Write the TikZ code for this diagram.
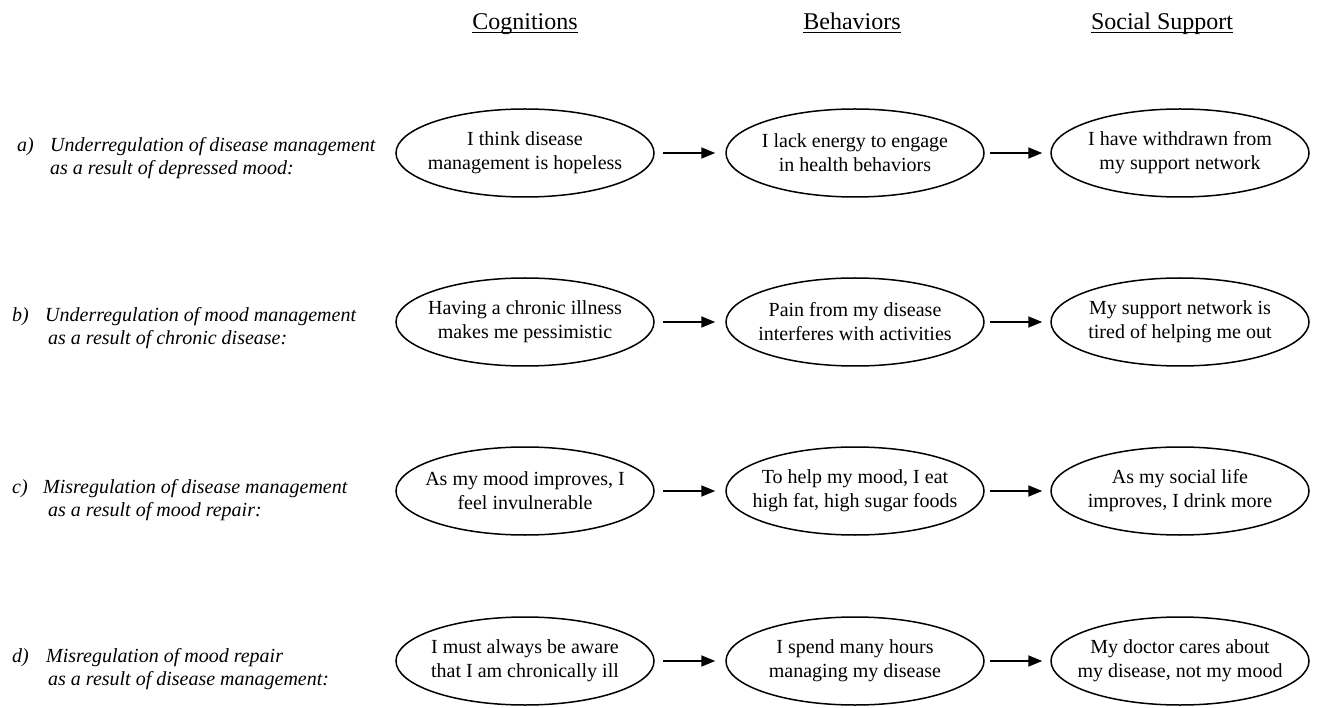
\documentclass[tikz,border=0pt]{standalone}
\usepackage{fontspec}
\setmainfont{Liberation Serif}
\usetikzlibrary{shapes.geometric,arrows.meta}
\newcommand\hdul[1]{\setbox0\hbox{#1}\rlap{\rule[-3.5pt]{\wd0}{1.2pt}}\box0}
\tikzset{
  oval/.style={draw, line width=1.5pt, ellipse, minimum width=258pt, minimum height=88pt, inner sep=0pt},
  ovaltext/.style={align=center, font=\fontsize{20}{24}\selectfont, inner sep=0pt},
  hdr/.style={anchor=base, font=\fontsize{24}{28}\selectfont, inner sep=0pt},
  rowlab/.style={anchor=base west, font=\fontsize{20}{24}\selectfont\itshape, inner sep=0pt},
  arr/.style={line width=1.8pt, -{Triangle[length=14pt,width=11pt]}},
}
\begin{document}
\begin{tikzpicture}[x=1pt,y=-1pt]
\useasboundingbox (0,0) rectangle (1317,708);
% headers
\node[hdr] (h1) at (525,30) {\hdul{Cognitions}};
\node[hdr] (h2) at (852,30) {\hdul{Behaviors}};
\node[hdr] (h3) at (1162,30) {\hdul{Social Support}};
% row a
\node[rowlab] (la0) at (17,152) {a)};
\node[rowlab] (la1) at (50,152) {Underregulation of disease management};
\node[rowlab] (la2) at (50,175) {as a result of depressed mood:};
\node[oval, label={[ovaltext]center:I think disease\\management is hopeless}] (a1) at (525,153) {};
\node[oval, label={[ovaltext]center:I lack energy to engage\\in health behaviors}] (a2) at (855,153) {};
\node[oval, label={[ovaltext]center:I have withdrawn from\\my support network}] (a3) at (1180,153) {};
% row b
\node[rowlab] (lb0) at (12,322) {b)};
\node[rowlab] (lb1) at (45,322) {Underregulation of mood management};
\node[rowlab] (lb2) at (48,345) {as a result of chronic disease:};
\node[oval, label={[ovaltext]center:Having a chronic illness\\makes me pessimistic}] (b1) at (525,322) {};
\node[oval, label={[ovaltext]center:Pain from my disease\\interferes with activities}] (b2) at (855,322) {};
\node[oval, label={[ovaltext]center:My support network is\\tired of helping me out}] (b3) at (1180,322) {};
% row c
\node[rowlab] (lc0) at (12,493) {c)};
\node[rowlab] (lc1) at (43,493) {Misregulation of disease management};
\node[rowlab] (lc2) at (48,516) {as a result of mood repair:};
\node[oval, label={[ovaltext]center:As my mood improves, I\\feel invulnerable}] (c1) at (525,491) {};
\node[oval, label={[ovaltext]center:To help my mood, I eat\\high fat, high sugar foods}] (c2) at (855,491) {};
\node[oval, label={[ovaltext]center:As my social life\\improves, I drink more}] (c3) at (1180,491) {};
% row d
\node[rowlab] (ld0) at (12,662) {d)};
\node[rowlab] (ld1) at (46,662) {Misregulation of mood repair};
\node[rowlab] (ld2) at (48,685) {as a result of disease management:};
\node[oval, label={[ovaltext]center:I must always be aware\\that I am chronically ill}] (d1) at (525,661) {};
\node[oval, label={[ovaltext]center:I spend many hours\\managing my disease}] (d2) at (855,661) {};
\node[oval, label={[ovaltext]center:My doctor cares about\\my disease, not my mood}] (d3) at (1180,661) {};
% arrows
\foreach \r in {a,b,c,d}{
  \draw[arr, shorten <=8pt, shorten >=10pt] (\r1) -- (\r2);
  \draw[arr, shorten <=5pt, shorten >=8pt] (\r2) -- (\r3);
}
\end{tikzpicture}
\end{document}
